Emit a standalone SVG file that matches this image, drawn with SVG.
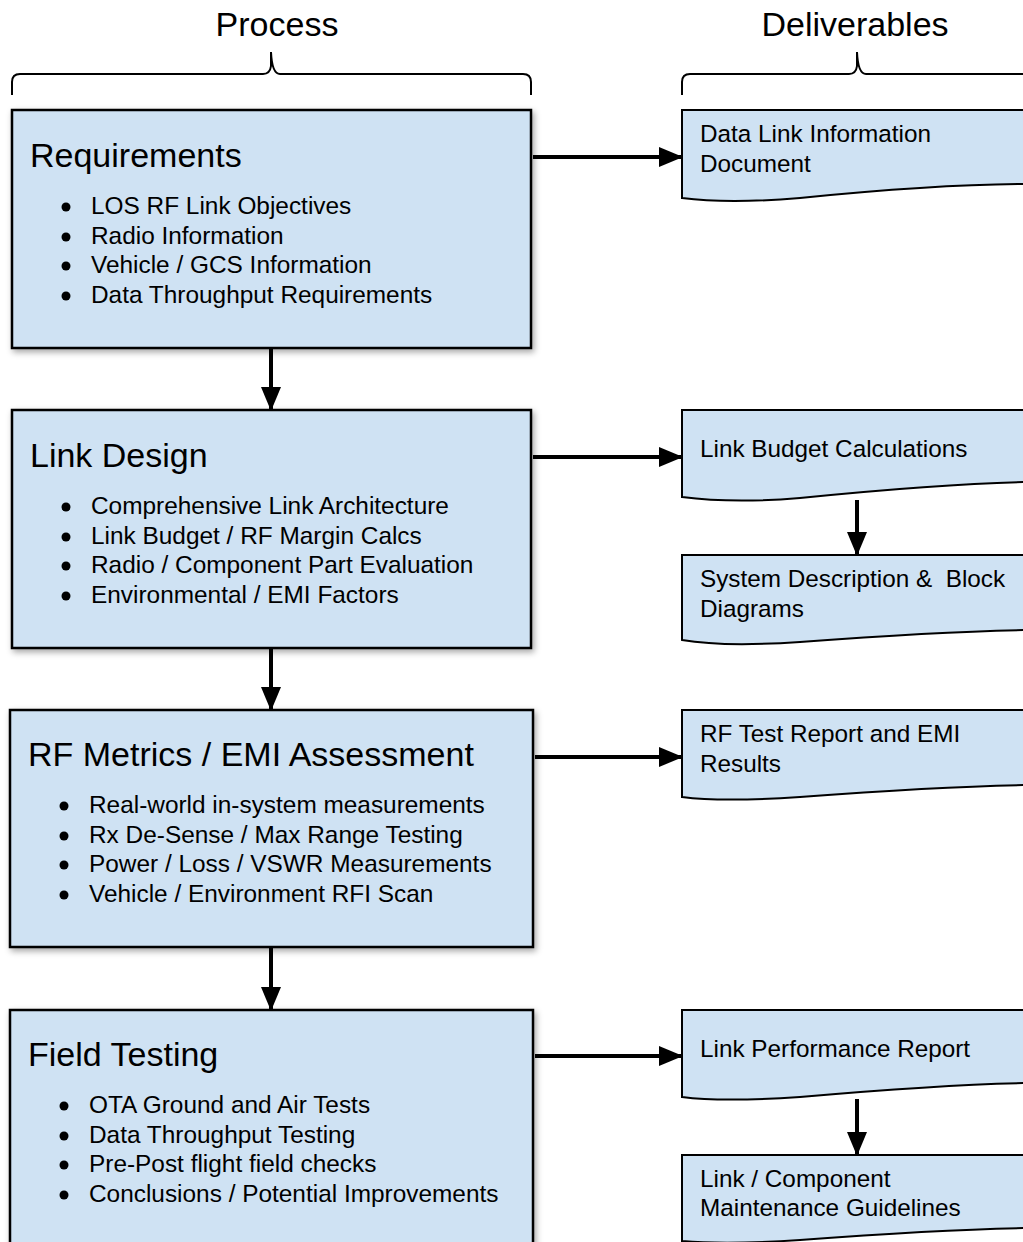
<svg xmlns="http://www.w3.org/2000/svg" width="1023" height="1242" viewBox="0 0 1023 1242">
<defs>
<filter id="sh" x="-5%" y="-5%" width="115%" height="115%">
<feDropShadow dx="2" dy="3" stdDeviation="3" flood-color="#000" flood-opacity="0.35"/>
</filter>
<marker id="ah" markerWidth="24" markerHeight="22" refX="23" refY="11" orient="auto" markerUnits="userSpaceOnUse">
<path d="M0,1 L24,11 L0,21 Z" fill="#000"/>
</marker>
</defs>
<style>
.box{fill:#cfe2f3;stroke:#000;stroke-width:2.5;filter:url(#sh)}
.doc{fill:#cfe2f3;stroke:#000;stroke-width:2}
.t{font-family:"Liberation Sans",Arial,sans-serif;fill:#000}
.hd{font-size:34px}
.ti{font-size:34px}
.it{font-size:24.4px}
.dt{font-size:24.3px}
.bu{fill:#000}
.br{fill:none;stroke:#000;stroke-width:2}
.cn{fill:none;stroke:#000;stroke-width:4;marker-end:url(#ah)}
</style>

<g id="headers">
<text class="t hd" x="277" y="36" text-anchor="middle">Process</text>
<text class="t hd" x="855" y="36" text-anchor="middle">Deliverables</text>
<path class="br" d="M12,95 V82 Q12,74 20,74 H263 Q270,74 271,66 V52 Q272,74 280,74 H523 Q531,74 531,82 V95"/>
<path class="br" d="M682,95 V82 Q682,74 690,74 H849 Q856,74 857,66 V52 Q858,74 866,74 H1030"/>
</g>

<g id="requirements">
<rect class="box" x="12" y="110" width="519" height="238"/>
<text class="t ti" x="30" y="167">Requirements</text>
<g class="bu"><circle cx="66" cy="207" r="4.5"/><circle cx="66" cy="237" r="4.5"/><circle cx="66" cy="266" r="4.5"/><circle cx="66" cy="296" r="4.5"/></g>
<g class="t it">
<text x="91" y="214">LOS RF Link Objectives</text>
<text x="91" y="244">Radio Information</text>
<text x="91" y="273">Vehicle / GCS Information</text>
<text x="91" y="303">Data Throughput Requirements</text>
</g>
</g>

<g id="link-design">
<rect class="box" x="12" y="410" width="519" height="238"/>
<text class="t ti" x="30" y="467">Link Design</text>
<g class="bu"><circle cx="66" cy="507" r="4.5"/><circle cx="66" cy="537" r="4.5"/><circle cx="66" cy="566" r="4.5"/><circle cx="66" cy="596" r="4.5"/></g>
<g class="t it">
<text x="91" y="514">Comprehensive Link Architecture</text>
<text x="91" y="544">Link Budget / RF Margin Calcs</text>
<text x="91" y="573">Radio / Component Part Evaluation</text>
<text x="91" y="603">Environmental / EMI Factors</text>
</g>
</g>

<g id="rf-metrics">
<rect class="box" x="10" y="710" width="523" height="237"/>
<text class="t ti" x="28" y="766">RF Metrics / EMI Assessment</text>
<g class="bu"><circle cx="64" cy="806" r="4.5"/><circle cx="64" cy="836" r="4.5"/><circle cx="64" cy="865" r="4.5"/><circle cx="64" cy="895" r="4.5"/></g>
<g class="t it">
<text x="89" y="813">Real-world in-system measurements</text>
<text x="89" y="843">Rx De-Sense / Max Range Testing</text>
<text x="89" y="872">Power / Loss / VSWR Measurements</text>
<text x="89" y="902">Vehicle / Environment RFI Scan</text>
</g>
</g>

<g id="field-testing">
<rect class="box" x="10" y="1010" width="523" height="250"/>
<text class="t ti" x="28" y="1066">Field Testing</text>
<g class="bu"><circle cx="64" cy="1106" r="4.5"/><circle cx="64" cy="1136" r="4.5"/><circle cx="64" cy="1165" r="4.5"/><circle cx="64" cy="1195" r="4.5"/></g>
<g class="t it">
<text x="89" y="1113">OTA Ground and Air Tests</text>
<text x="89" y="1143">Data Throughput Testing</text>
<text x="89" y="1172">Pre-Post flight field checks</text>
<text x="89" y="1202">Conclusions / Potential Improvements</text>
</g>
</g>

<g id="doc-data-link">
<path class="doc" d="M682,110 H1030 V184 C960,184 880,190 800,198 C740,203 705,201 682,198 Z"/>
<text class="t dt" x="700" y="142">Data Link Information</text>
<text class="t dt" x="700" y="172">Document</text>
</g>

<g id="doc-link-budget">
<path class="doc" d="M682,410 H1030 V482 C960,483 880,490 800,498 C740,503 705,500 682,497 Z"/>
<text class="t dt" x="700" y="457">Link Budget Calculations</text>
</g>

<g id="doc-system-desc">
<path class="doc" d="M682,555 H1030 V630 C960,631 880,636 800,642 C740,646 705,644 682,640 Z"/>
<text class="t dt" x="700" y="587" xml:space="preserve" style="white-space:pre">System Description &amp;  Block</text>
<text class="t dt" x="700" y="617">Diagrams</text>
</g>

<g id="doc-rf-test">
<path class="doc" d="M682,710 H1030 V785 C960,786 880,791 800,797 C740,801 705,800 682,797 Z"/>
<text class="t dt" x="700" y="742">RF Test Report and EMI</text>
<text class="t dt" x="700" y="772">Results</text>
</g>

<g id="doc-link-perf">
<path class="doc" d="M682,1010 H1030 V1083 C960,1084 880,1090 800,1097 C740,1101 705,1100 682,1097 Z"/>
<text class="t dt" x="700" y="1057">Link Performance Report</text>
</g>

<g id="doc-maintenance">
<path class="doc" d="M682,1155 H1030 V1228 C960,1229 880,1234 800,1240 C740,1244 705,1243 682,1241 Z"/>
<text class="t dt" x="700" y="1187">Link / Component</text>
<text class="t dt" x="700" y="1216">Maintenance Guidelines</text>
</g>

<g id="connectors">
<line class="cn" x1="533" y1="157" x2="682" y2="157"/>
<line class="cn" x1="533" y1="457" x2="682" y2="457"/>
<line class="cn" x1="535" y1="757" x2="682" y2="757"/>
<line class="cn" x1="535" y1="1056" x2="682" y2="1056"/>
<line class="cn" x1="271" y1="349" x2="271" y2="410"/>
<line class="cn" x1="271" y1="649" x2="271" y2="710"/>
<line class="cn" x1="271" y1="948" x2="271" y2="1010"/>
<line class="cn" x1="857" y1="500" x2="857" y2="555"/>
<line class="cn" x1="857" y1="1099" x2="857" y2="1155"/>
</g>
</svg>
